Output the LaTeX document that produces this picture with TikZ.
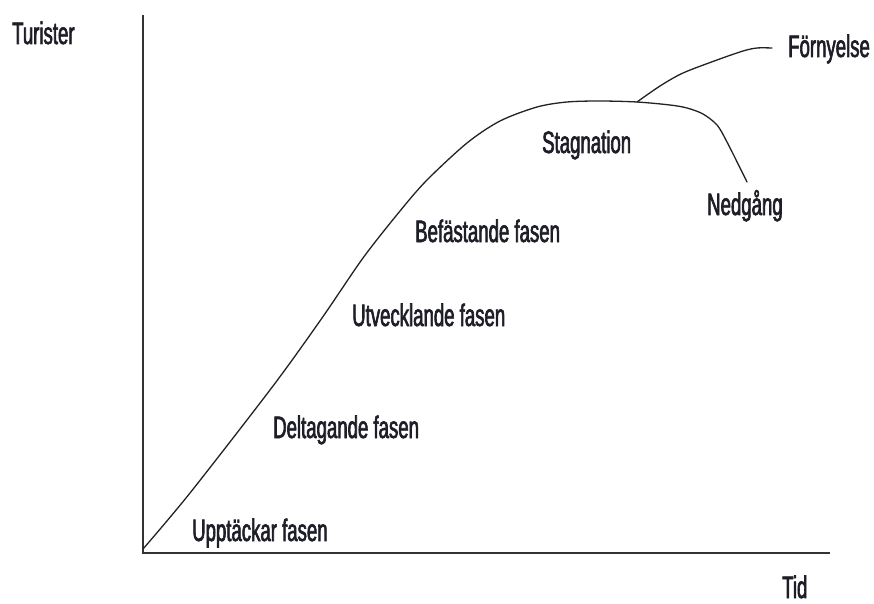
\documentclass[tikz,border=0pt]{standalone}
\usepackage{fontspec}
\setmainfont{Liberation Sans}[FakeStretch=0.6,FakeBold=2]
\definecolor{axisgray}{HTML}{333333}
\definecolor{curvegray}{HTML}{222222}
\definecolor{labelink}{HTML}{1E1E28}
\begin{document}
\begin{tikzpicture}[x=1pt,y=-1pt,
  axis/.style={line width=2pt,draw=axisgray},
  curve/.style={line width=1.3pt,draw=curvegray,line join=round,line cap=round},
  lbl/.style={anchor=base west,inner sep=0pt,text=labelink,
              font=\fontsize{31}{31}\selectfont}]
  \useasboundingbox (0,0) rectangle (874,604);

  % axes
  \coordinate (origin) at (143,553);
  \coordinate (ytop)   at (143,15);
  \coordinate (xend)   at (830,553);
  \draw[axis] (ytop) -- (origin) -- (xend);

  % life-cycle curve, ending in decline
  \coordinate (split) at (637,102);
  \draw[curve] plot[smooth,tension=0.5] coordinates {
    (143,549) (190,493) (273,386) (322,318) (363,258) (400,211)
    (427,180) (467,143) (500,121) (537,107) (567,102) (600,101)
    (637,102) (670,105) (687,108) (703,114) (717,125) (727,142) (747,182)};
  % renewal branch
  \draw[curve] plot[smooth,tension=0.5] coordinates {
    (split) (660,86) (683,73) (717,60) (743,51) (757,48) (772,48)};

  % axis titles
  \node[lbl] (turister) at (12,44)  {Turister};
  \node[lbl,text depth=0pt] (tid) at (782,598) {Tid};

  % phase labels
  \node[lbl] (upptack)  at (192,541) {Upptäckar fasen};
  \node[lbl] (deltag)   at (273,438) {Deltagande fasen};
  \node[lbl] (utveckl)  at (352,326) {Utvecklande fasen};
  \node[lbl] (befast)   at (415,242) {Befästande fasen};
  \node[lbl] (stagn)    at (542,153) {Stagnation};
  \node[lbl] (nedgang)  at (707,215) {Nedgång};
  \node[lbl] (fornyel)  at (788,57)  {Förnyelse};
\end{tikzpicture}
\end{document}
